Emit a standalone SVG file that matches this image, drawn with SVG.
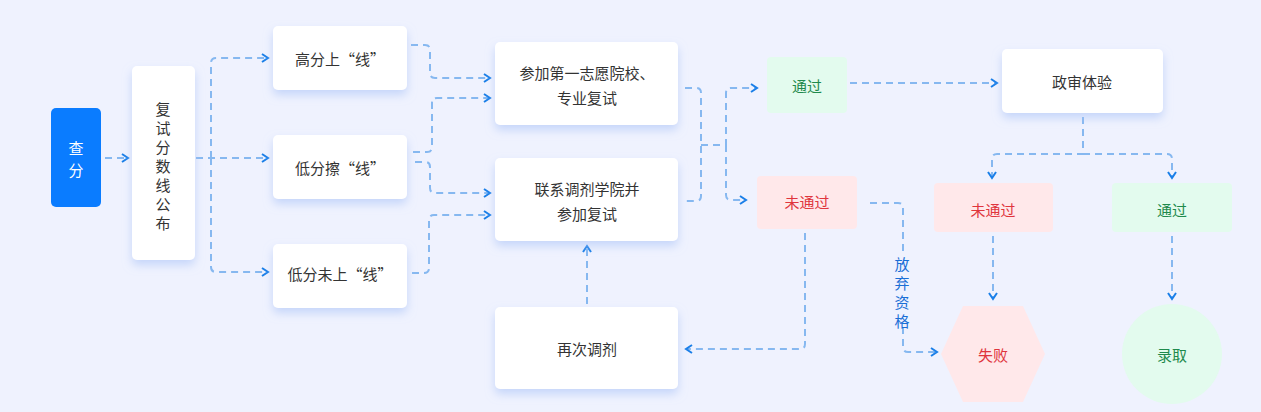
<svg xmlns="http://www.w3.org/2000/svg" width="1261" height="412" viewBox="0 0 1261 412">
<defs>
<filter id="sh" x="-20%" y="-20%" width="140%" height="160%"><feDropShadow dx="0" dy="5" stdDeviation="5" flood-color="#a9c3f7" flood-opacity="0.6"/></filter>
<marker id="ar" viewBox="0 0 10 10" refX="8" refY="5" markerWidth="10" markerHeight="10" markerUnits="userSpaceOnUse" orient="auto"><path d="M2,1 L8,5 L2,9" fill="none" stroke="#1a7fe8" stroke-width="2"/></marker>
<style>
text{font-family:"Noto Sans CJK SC","Noto Sans",sans-serif;font-size:15px;fill:#333;text-anchor:middle;dominant-baseline:central}
.w{fill:#fff;filter:url(#sh)}
.c path{fill:none;stroke:#86b8f0;stroke-width:2;stroke-dasharray:7 5;marker-end:url(#ar)}
.g{fill:#e3fbee}.gt{fill:#1f8a4c}
.r{fill:#ffe8ea}.rt{fill:#e0353d}
</style>
</defs>
<rect width="1261" height="412" fill="#eff2fe"/>
<g class="c">
<path d="M105,158 H128"/>
<path d="M196,158 H268"/>
<path d="M211,158 V63 Q211,58 216,58 H268"/>
<path d="M211,158 V267 Q211,272 216,272 H268"/>
<path d="M411,45 H425 Q430,45 430,50 V73 Q430,78 435,78 H490"/>
<path d="M413,152 H427 Q432,152 432,147 V103 Q432,98 437,98 H490"/>
<path d="M415,162 H425 Q430,162 430,167 V188 Q430,193 435,193 H490"/>
<path d="M412,273 H424 Q429,273 429,268 V220 Q429,215 434,215 H490"/>
<path d="M685,88 H696 Q701,88 701,93 V196 Q701,201 696,201 H685" style="marker-end:none"/>
<path d="M701,145 H726 V93 Q726,88 731,88 H757"/>
<path d="M726,145 V195 Q726,200 731,200 H746"/>
<path d="M850,83 H997"/>
<path d="M1083,117 V154 H997 Q992,154 992,159 V178"/>
<path d="M1083,154 H1167 Q1172,154 1172,159 V178"/>
<path d="M993,236 V299"/>
<path d="M1172,236 V299"/>
<path d="M805,233 V344 Q805,349 800,349 H686"/>
<path d="M587,304 V246"/>
<path d="M870,203 H898 Q903,203 903,208 V252" style="marker-end:none"/>
<path d="M903,327 V347 Q903,352 908,352 H937"/>
</g>
<g id="n1"><rect x="51" y="108" width="50" height="99" rx="5" fill="#0a7cff"/><text x="76" y="147" style="fill:#fff">查</text><text x="76" y="169" style="fill:#fff">分</text></g>
<g id="n2"><rect class="w" x="132" y="66" width="63" height="194" rx="5"/>
<text x="163" y="108">复</text><text x="163" y="127">试</text><text x="163" y="146">分</text><text x="163" y="165">数</text><text x="163" y="184">线</text><text x="163" y="203">公</text><text x="163" y="222">布</text></g>
<g id="n3"><rect class="w" x="273" y="26" width="134" height="64" rx="5"/><text x="340" y="58">高分上“线”</text></g>
<g id="n4"><rect class="w" x="273" y="135" width="134" height="64" rx="5"/><text x="340" y="167">低分擦“线”</text></g>
<g id="n5"><rect class="w" x="273" y="244" width="134" height="64" rx="5"/><text x="340" y="273">低分未上“线”</text></g>
<g id="n6"><rect class="w" x="495" y="42" width="183" height="83" rx="5"/><text x="587" y="72">参加第一志愿院校、</text><text x="587" y="97">专业复试</text></g>
<g id="n7"><rect class="w" x="495" y="158" width="183" height="83" rx="5"/><text x="587" y="188">联系调剂学院并</text><text x="587" y="213">参加复试</text></g>
<g id="n8"><rect class="w" x="495" y="307" width="183" height="82" rx="5"/><text x="587" y="348">再次调剂</text></g>
<g id="n9"><rect class="g" x="767" y="57" width="80" height="56" rx="4"/><text class="gt" x="807" y="85">通过</text></g>
<g id="n10"><rect class="r" x="757" y="176" width="100" height="53" rx="4"/><text class="rt" x="807" y="201">未通过</text></g>
<g id="n11"><rect class="w" x="1002" y="49" width="161" height="64" rx="5"/><text x="1082" y="81">政审体验</text></g>
<g id="n12"><rect class="r" x="934" y="183" width="119" height="49" rx="4"/><text class="rt" x="993" y="209">未通过</text></g>
<g id="n13"><rect class="g" x="1112" y="183" width="120" height="49" rx="4"/><text class="gt" x="1172" y="209">通过</text></g>
<g id="n14"><polygon class="r" points="963,306 1023,306 1045,354 1023,402 963,402 941,354"/><text class="rt" x="993" y="354">失败</text></g>
<g id="n15"><circle class="g" cx="1172" cy="354" r="50"/><text class="gt" x="1172" y="354">录取</text></g>
<g id="lbl"><text x="902" y="263" style="fill:#1a6fd6">放</text><text x="902" y="282" style="fill:#1a6fd6">弃</text><text x="902" y="301" style="fill:#1a6fd6">资</text><text x="902" y="320" style="fill:#1a6fd6">格</text></g>
</svg>
